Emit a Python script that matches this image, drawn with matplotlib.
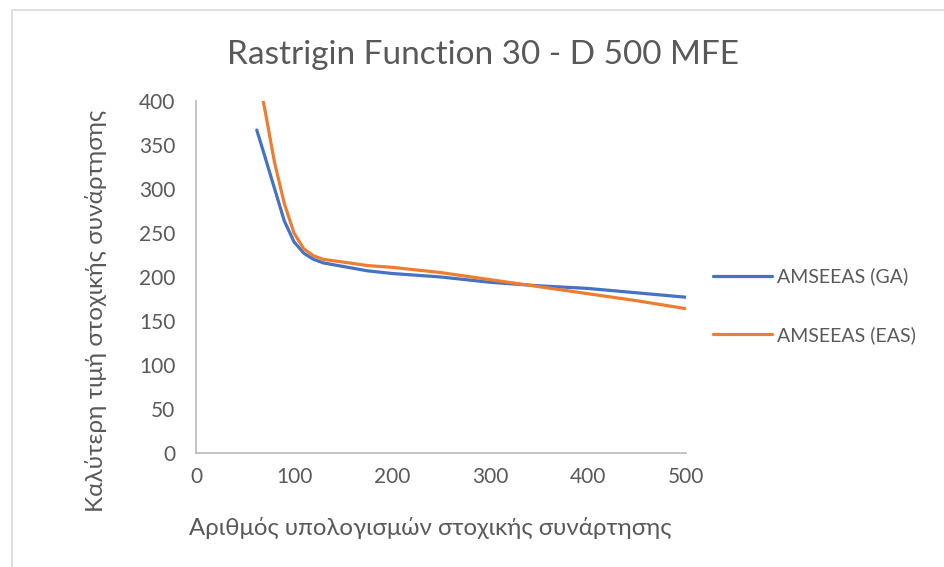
import matplotlib
matplotlib.use("Agg")
from matplotlib import pyplot as plt
from matplotlib.patches import Rectangle

plt.rcParams['font.family'] = ['Lato', 'Open Sans', 'DejaVu Sans']

# best value found vs. number of function evaluations
ga_x = [62, 70, 80, 90, 100, 110, 120, 130, 150, 175, 200, 250, 300, 350, 400, 450, 500]
ga_y = [367, 338, 301, 264, 240, 227, 220, 216, 212, 207, 204, 200, 194, 190, 187, 182, 177]

eas_x = [65, 70, 80, 90, 100, 110, 120, 130, 150, 175, 200, 250, 300, 350, 400, 450, 500]
eas_y = [420, 392, 331, 284, 250, 232, 224, 220, 217, 213, 211, 205, 197, 189, 181, 173, 164]

x_ticks = [0, 100, 200, 300, 400, 500]
y_ticks = [0, 50, 100, 150, 200, 250, 300, 350, 400]

grey = '#595959'

fig = plt.figure(figsize=(9.44, 5.67), dpi=100)
ax = fig.add_axes([196 / 944, 1 - 453 / 567, 490 / 944, 352 / 567])

ax.plot(ga_x, ga_y, color='#4472C4', lw=2.3, label='AMSEEAS (GA)',
        solid_capstyle='round', solid_joinstyle='round')
ax.plot(eas_x, eas_y, color='#ED7D31', lw=2.3, label='AMSEEAS (EAS)',
        solid_capstyle='round', solid_joinstyle='round')

ax.set_xlim(0, 500)
ax.set_ylim(0, 400)
ax.set_xticks(x_ticks)
ax.set_yticks(y_ticks)
ax.tick_params(length=0, labelsize=15, colors=grey)
ax.tick_params(axis='y', pad=15)
ax.tick_params(axis='x', pad=10)

for side in ['top', 'right']:
    ax.spines[side].set_visible(False)
for side in ['left', 'bottom']:
    ax.spines[side].set_color('#BFBFBF')
    ax.spines[side].set_linewidth(1.3)

fig.text(483 / 944, 1 - 55 / 567, 'Rastrigin Function 30 - D 500 MFE',
         ha='center', va='center', fontsize=24, color=grey)
fig.text(430 / 944, 1 - 528 / 567, 'Αριθμός υπολογισμών στοχικής συνάρτησης',
         ha='center', va='center', fontsize=17.3, color=grey)
fig.text(96 / 944, 1 - 311 / 567, 'Καλύτερη τιμή στοχικής συνάρτησης',
         ha='center', va='center', fontsize=17.5, color=grey, rotation=90)

ax.legend(loc='center left', bbox_to_anchor=(1.02, 0.418), frameon=False,
          fontsize=14, labelcolor=grey, handlelength=3.0, handletextpad=0.3,
          labelspacing=2.1)

# chart area border
fig.patches.append(Rectangle((12 / 944, -0.1), 1.2, 1.1 - 10 / 567,
                             transform=fig.transFigure, fill=False,
                             edgecolor='#D9D9D9', lw=1.2))

fig.savefig('out.png', dpi=100)
